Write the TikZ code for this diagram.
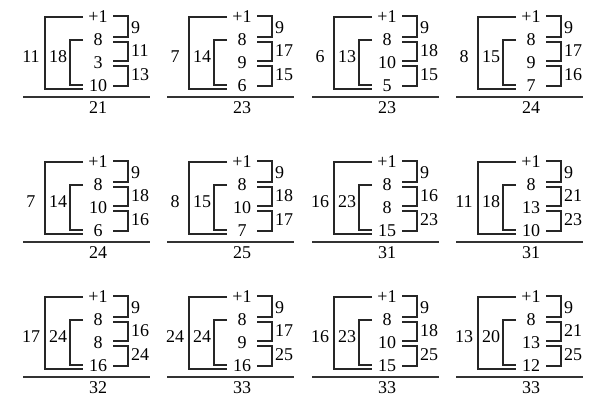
\documentclass[tikz,border=0pt]{standalone}
\usepackage{fontspec}
\setmainfont{Liberation Serif}
\usetikzlibrary{positioning}

\begin{document}
\begin{tikzpicture}[
    x=1pt, y=-1pt,
    num/.style={font=\fontsize{18}{20}\selectfont, inner sep=1pt},
    brace/.style={draw=black!85, line width=1.1pt},
    rule/.style={draw=black!80, line width=1.3pt}
]
    \useasboundingbox (0,0) rectangle (600,400);

    \foreach \vK/\vX/\vY/\vO/\vI/\vM/\vL/\vA/\vB/\vT in {
        1/98/17/11/18/3/10/11/13/21,
        2/242/17/7/14/9/6/17/15/23,
        3/387/17/6/13/10/5/18/15/23,
        4/531/17/8/15/9/7/17/16/24,
        5/98/162/7/14/10/6/18/16/24,
        6/242/162/8/15/10/7/18/17/25,
        7/387/162/16/23/8/15/16/23/31,
        8/531/162/11/18/13/10/21/23/31,
        9/98/297/17/24/8/16/16/24/32,
        10/242/297/24/24/9/16/17/25/33,
        11/387/297/16/23/10/15/18/25/33,
        12/531/297/13/20/13/12/21/25/33}
    {
        % column of numbers
        \node[num] (t\vK) at (\vX,\vY) {+1};
        \node[num] (a\vK) at (\vX,\vY+23) {8};
        \node[num] (m\vK) at (\vX,\vY+46) {\vM};
        \node[num] (l\vK) at (\vX,\vY+69) {\vL};

        % left sums
        \node[num] (o\vK) at (\vX-67,\vY+40) {\vO};
        \node[num] (i\vK) at (\vX-40,\vY+40) {\vI};
        \draw[brace] ([xshift=-15pt]t\vK.center) -| ([xshift=-53pt,yshift=-3pt]l\vK.center)
            -- ([xshift=-15pt,yshift=-3pt]l\vK.center);
        \draw[brace] ([xshift=-15pt]a\vK.center) -| ([xshift=-28pt,yshift=1pt]l\vK.center)
            -- ([xshift=-15pt,yshift=1pt]l\vK.center);

        % right sums
        \node[num, anchor=west] (r\vK) at (\vX+32,\vY+11) {9};
        \node[num, anchor=west] (p\vK) at (\vX+32,\vY+34) {\vA};
        \node[num, anchor=west] (q\vK) at (\vX+32,\vY+58) {\vB};
        \draw[brace] ([xshift=15pt,yshift=1pt]t\vK.center) -| ([xshift=30pt,yshift=3pt]a\vK.center)
            -- ([xshift=15pt,yshift=3pt]a\vK.center);
        \draw[brace] ([xshift=15pt,yshift=-2pt]a\vK.center) -| ([xshift=30pt,yshift=2pt]m\vK.center)
            -- ([xshift=15pt,yshift=2pt]m\vK.center);
        \draw[brace] ([xshift=15pt,yshift=-3pt]m\vK.center) -| ([xshift=30pt]l\vK.center)
            -- ([xshift=15pt]l\vK.center);

        % total
        \node[num] (s\vK) at (\vX,\vY+91) {\vT};
        \draw[rule] ([shift={(-75pt,11pt)}]s\vK.center) -- ([shift={(52pt,11pt)}]s\vK.center);
    }
\end{tikzpicture}
\end{document}
